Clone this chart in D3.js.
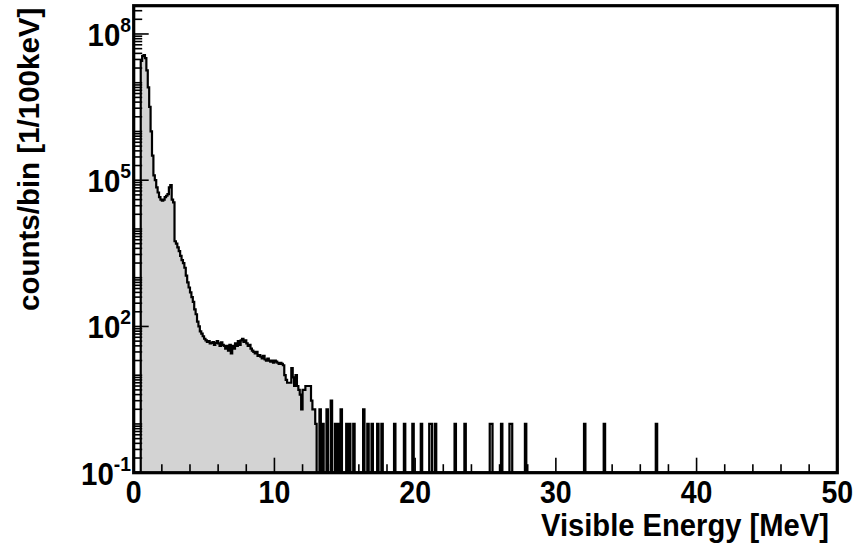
<!DOCTYPE html>
<html>
<head>
<meta charset="utf-8">
<script src="https://cdn.jsdelivr.net/npm/d3@7"></script>
<style>
  html, body { margin: 0; padding: 0; background: #fff; }
  svg { display: block; }
  text { font-family: "Liberation Sans", Arial, Helvetica, sans-serif; font-weight: bold; fill: #000; }
</style>
</head>
<body>
<svg id="chart" width="858" height="543"></svg>
<script>
// ---------------- data ----------------
const binWidth = 0.1;            // MeV (100 keV bins)
const xDomain = [0, 50];         // MeV
const yMin = 0.1, yMaxExp = 8.58;
const lowStart = 0.5;            // lower edge of first filled bin (MeV)
// counts per 100 keV bin, starting at 0.5 MeV
const lowCounts = [
  2.8e7, 3.5e7, 3.7e7, 3.2e7, 1.8e7, 8.0e6, 3.2e6, 1.0e6, 3.2e5, 1.26e5,   // 0.5 - 1.4
  1.0e5, 7.1e4, 5.6e4, 4.5e4, 4.0e4, 3.8e4, 4.0e4, 4.5e4, 4.8e4, 5.2e4,   // 1.5 - 2.4
  7.1e4, 7.9e4, 4.0e4, 3.5e4, 5600, 5000, 4200, 3500, 2800, 2300,         // 2.5 - 3.4
  2000, 1600, 1100, 800, 630, 500, 400, 320, 224, 178,                    // 3.5 - 4.4
  126, 100, 79, 71, 63, 56, 52, 48, 50, 45,                               // 4.5 - 5.4
  46, 48, 42, 46, 50, 45, 40, 47, 42, 40,                                 // 5.5 - 6.4
  35, 40, 32, 42, 28, 40, 35, 45, 40, 50,                                 // 6.5 - 7.4
  42, 52, 56, 48, 52, 45, 40, 42, 35, 32,                                 // 7.5 - 8.4
  30, 28, 30, 25, 26, 24, 22, 25, 21, 20,                                 // 8.5 - 9.4
  22, 20, 19, 20, 18, 20, 19, 18, 17, 18,                                 // 9.5 - 10.4
  17, 16, 10, 8, 7, 7, 7, 14, 9, 6,                                       // 10.5 - 11.4
  10, 6, 5, 4, 2, 5, 5, 6, 6, 6,                                          // 11.5 - 12.4
  6, 3, 2, 2, 1                                                           // 12.5 - 12.9
];
// isolated high-energy bins: lower edge (MeV) and counts
const sparseEnergies = [13.2, 13.4, 13.7, 14.0, 14.3, 14.5, 14.7, 15.1, 15.3, 15.6,
                        16.3, 16.6, 16.9, 17.3, 17.6, 18.5, 19.2, 19.8, 20.4, 21.0,
                        21.1, 21.4, 22.8, 23.5, 25.3, 25.4, 26.1, 26.7, 26.8, 27.8,
                        32.0, 33.4, 37.1];
const sparseCounts   = [2, 1, 2, 3, 1, 1, 2, 1, 1, 1,
                        2, 1, 1, 1, 1, 1, 1, 1, 1, 1,
                        1, 1, 1, 1, 1, 1, 1, 1, 1, 1,
                        1, 1, 1];
const xMajorTicks = [0, 10, 20, 30, 40, 50];
const xMinorStep = 2;
const yLabelExps = [-1, 2, 5, 8];
const xTitle = "Visible Energy [MeV]";
const yTitle = "counts/bin [1/100keV]";

// ---------------- layout ----------------
const L = 133.7, R = 837.3, T = 5.7, B = 472.7;
const svg = d3.select("#chart");

const x = d3.scaleLinear().domain(xDomain).range([L, R]);
const y = d3.scaleLog().domain([yMin, Math.pow(10, yMaxExp)]).range([B, T]);

// build full histogram from arrays
const nBins = Math.round((xDomain[1] - xDomain[0]) / binWidth);
const counts = new Array(nBins).fill(0);
lowCounts.forEach((c, i) => { counts[Math.round(lowStart / binWidth) + i] = c; });
sparseEnergies.forEach((e, i) => { counts[Math.round(e / binWidth)] = sparseCounts[i]; });

const pts = [];
counts.forEach((c, i) => {
  const x0 = xDomain[0] + i * binWidth, x1 = x0 + binWidth;
  const v = c > 0 ? Math.max(c, yMin) : yMin;
  pts.push([x0, v], [x1, v]);
});

svg.append("defs").append("clipPath").attr("id", "clip")
  .append("rect").attr("x", L).attr("y", T).attr("width", R - L).attr("height", B - T);

const g = svg.append("g").attr("clip-path", "url(#clip)");

const area = d3.area().x(d => x(d[0])).y0(B).y1(d => y(d[1]));
const line = d3.line().x(d => x(d[0])).y(d => y(d[1]));

g.append("path").datum(pts).attr("d", area).attr("fill", "#d3d3d3").attr("stroke", "none");
g.append("path").datum(pts).attr("d", line).attr("fill", "none")
  .attr("stroke", "#000").attr("stroke-width", 2.2).attr("stroke-linejoin", "miter");

// ---------------- ticks ----------------
const ticks = svg.append("g").attr("stroke", "#000").attr("stroke-width", 1.6);
d3.range(xDomain[0], xDomain[1] + 0.001, xMinorStep).forEach(v => {
  const major = xMajorTicks.includes(v);
  ticks.append("line").attr("x1", x(v)).attr("x2", x(v))
    .attr("y1", B).attr("y2", B - (major ? 15 : 8.5));
});
for (let e = -1; e <= 8; e++) {
  for (let m = 1; m <= 9; m++) {
    const v = m * Math.pow(10, e);
    if (v > Math.pow(10, yMaxExp)) continue;
    const major = (m === 1 && yLabelExps.includes(e));
    ticks.append("line").attr("x1", L).attr("x2", L + (major ? 15 : 8.5))
      .attr("y1", y(v)).attr("y2", y(v));
  }
}

// frame
svg.append("rect").attr("x", L).attr("y", T).attr("width", R - L).attr("height", B - T)
  .attr("fill", "none").attr("stroke", "#000").attr("stroke-width", 3.2);

// ---------------- labels ----------------
xMajorTicks.forEach(v => {
  svg.append("text").attr("x", x(v)).attr("y", 503)
    .attr("text-anchor", "middle").attr("font-size", 31)
    .attr("transform", `translate(${x(v)},0) scale(0.92,1) translate(${-x(v)},0)`)
    .text(v);
});
yLabelExps.forEach(e => {
  const yy = y(Math.pow(10, e));
  const t = svg.append("text").attr("x", 131).attr("y", yy + 12)
    .attr("text-anchor", "end").attr("font-size", 32)
    .attr("transform", `translate(131,0) scale(0.92,1) translate(-131,0)`);
  t.append("tspan").text("10");
  t.append("tspan").attr("dy", -14).attr("font-size", 21).text(e);
});

svg.append("text").attr("x", 541).attr("y", 536)
  .attr("font-size", 31).attr("textLength", 288).attr("lengthAdjust", "spacingAndGlyphs")
  .text(xTitle);
svg.append("text").attr("transform", "translate(39,311) rotate(-90)")
  .attr("font-size", 29.5)
  .text(yTitle);
</script>
</body>
</html>
